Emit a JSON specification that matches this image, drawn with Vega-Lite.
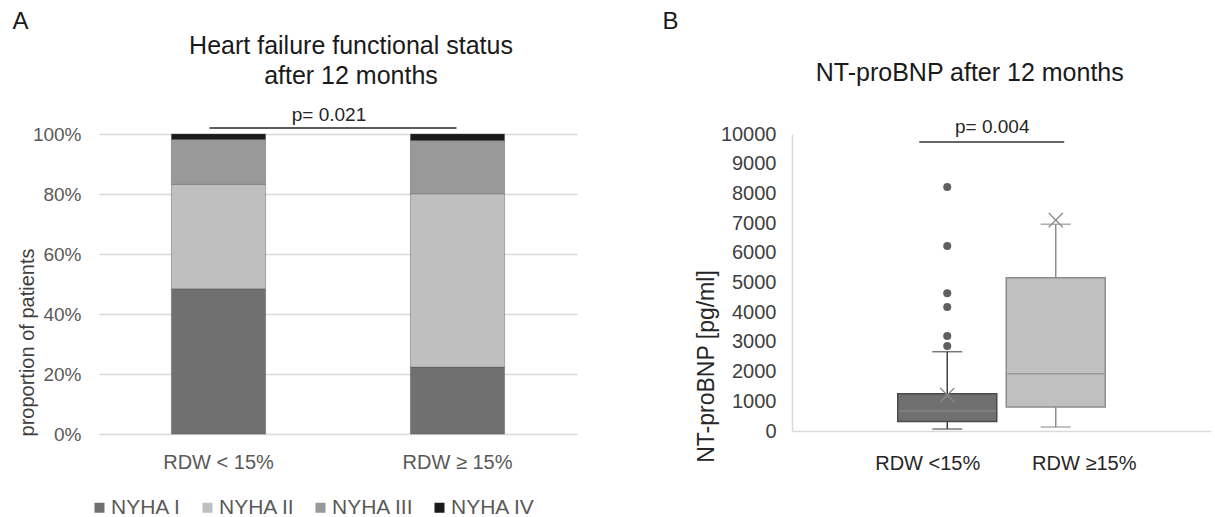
{
  "$schema": "https://vega.github.io/schema/vega-lite/v6.json",
  "autosize": {"type": "pad"},
  "padding": {"left": 12, "top": 9, "right": 0, "bottom": 0},
  "bounds": "flush",
  "spacing": 215,
  "config": {
    "view": {"stroke": null},
    "font": "Liberation Sans",
    "title": {"font": "Liberation Sans", "fontWeight": "normal", "fontSize": 24, "color": "#1a1a1a"}
  },
  "hconcat": [
    {
      "width": 478,
      "height": 300,
      "title": {"text": "A", "anchor": "start", "frame": "bounds", "offset": 0, "dx": -5},
      "data": {"values": [
        {"group": "RDW < 15%", "nyha": "NYHA I", "share": 0.484},
        {"group": "RDW < 15%", "nyha": "NYHA II", "share": 0.348},
        {"group": "RDW < 15%", "nyha": "NYHA III", "share": 0.150},
        {"group": "RDW < 15%", "nyha": "NYHA IV", "share": 0.018},
        {"group": "RDW ≥ 15%", "nyha": "NYHA I", "share": 0.223},
        {"group": "RDW ≥ 15%", "nyha": "NYHA II", "share": 0.578},
        {"group": "RDW ≥ 15%", "nyha": "NYHA III", "share": 0.177},
        {"group": "RDW ≥ 15%", "nyha": "NYHA IV", "share": 0.022}
      ]},
      "layer": [
        {
          "mark": {"type": "bar", "stroke": "#555555", "strokeWidth": 0.7, "strokeOpacity": 0.6},
          "encoding": {
            "x": {
              "field": "group", "type": "nominal", "sort": null,
              "scale": {"domain": ["RDW < 15%", "RDW ≥ 15%"], "paddingInner": 0.606, "paddingOuter": 0.303},
              "axis": {"title": null, "domain": false, "ticks": false, "labelAngle": 0, "labelFontSize": 20, "labelColor": "#595959", "labelPadding": 18}
            },
            "y": {
              "field": "share", "type": "quantitative", "stack": "zero",
              "scale": {"domain": [0, 1]},
              "axis": {"title": "proportion of patients", "values": [0, 0.2, 0.4, 0.6, 0.8, 1], "format": ".0%", "domain": false, "ticks": false,
                       "gridColor": "#d9d9d9", "gridWidth": 1.5, "labelFontSize": 19, "labelColor": "#595959", "labelPadding": 18,
                       "titleFontSize": 20, "titleFontWeight": "normal", "titleColor": "#404040", "titleY": 208, "titlePadding": -5}
            },
            "color": {
              "field": "nyha", "type": "nominal",
              "scale": {"domain": ["NYHA I", "NYHA II", "NYHA III", "NYHA IV"], "range": ["#707070", "#bfbfbf", "#999999", "#1a1a1a"]},
              "legend": {"title": null, "orient": "none", "legendX": -10, "legendY": 363, "direction": "horizontal", "symbolType": "square", "symbolSize": 100, "padding": 0,
                         "symbolStrokeWidth": 0, "labelFontSize": 21, "labelColor": "#595959", "columnPadding": 15, "labelOffset": 1}
            },
            "order": {"field": "nyha", "sort": "ascending"}
          }
        },
        {
          "data": {"values": [{}]},
          "mark": {"type": "rule", "color": "#262626", "strokeWidth": 1.5, "xOffset": -9, "x2Offset": -1},
          "encoding": {
            "x": {"datum": "RDW < 15%", "type": "nominal"},
            "x2": {"datum": "RDW ≥ 15%"},
            "y": {"datum": 1.02, "type": "quantitative", "scale": {"domain": [0, 1]}}
          }
        },
        {
          "data": {"values": [{}]},
          "mark": {"type": "text", "text": "p= 0.021", "fontSize": 19, "color": "#262626", "align": "center", "baseline": "alphabetic", "dx": 110.5},
          "encoding": {
            "x": {"datum": "RDW < 15%", "type": "nominal"},
            "y": {"datum": 1.0433, "type": "quantitative", "scale": {"domain": [0, 1]}}
          }
        },
        {
          "data": {"values": [{}]},
          "mark": {"type": "text", "text": ["Heart failure functional status", "after 12 months"], "fontSize": 25, "lineHeight": 30, "color": "#1a1a1a", "align": "center", "baseline": "alphabetic", "dx": 132.5},
          "encoding": {
            "x": {"datum": "RDW < 15%", "type": "nominal"},
            "y": {"datum": 1.2667, "type": "quantitative", "scale": {"domain": [0, 1]}}
          }
        }
      ]
    },
    {
      "width": 419,
      "height": 297,
      "title": {"text": "B", "anchor": "start", "frame": "bounds", "offset": 27, "dx": -33},
      "data": {"values": [
        {"group": "RDW <15%", "min": 67, "q1": 320, "median": 673, "q3": 1256, "max": 2670, "mean": 1212},
        {"group": "RDW ≥15%", "min": 135, "q1": 808, "median": 1929, "q3": 5162, "max": 6960, "mean": 7100}
      ]},
      "encoding": {
        "y": {
          "type": "quantitative",
          "scale": {"domain": [0, 10000]},
          "axis": {"title": "NT-proBNP [pg/ml]", "values": [0, 1000, 2000, 3000, 4000, 5000, 6000, 7000, 8000, 9000, 10000], "format": "d",
                   "labelOverlap": false, "labelSeparation": -25, "grid": false, "ticks": false, "domainColor": "#d9d9d9", "domainWidth": 1.5, "labelFontSize": 20, "labelColor": "#404040",
                   "labelPadding": 16, "titleFontSize": 23, "titleFontWeight": "normal", "titleColor": "#262626", "titleY": 232, "titlePadding": 2}
        }
      },
      "layer": [
        {
          "mark": {"type": "rule", "strokeWidth": 1.5},
          "encoding": {
            "x": {
              "field": "group", "type": "nominal", "sort": null,
              "scale": {"domain": ["RDW <15%", "RDW ≥15%"], "paddingInner": 0, "paddingOuter": 0.931},
              "axis": {"title": null, "domainColor": "#d9d9d9", "domainWidth": 1.5, "ticks": false, "labelAngle": 0, "labelFontSize": 20,
                       "labelColor": "#262626", "labelPadding": 22,
                       "labelOffset": {"condition": {"test": "datum.value === 'RDW <15%'", "value": -19.5}, "value": 28.5}}
            },
            "y": {"field": "min"},
            "y2": {"field": "max"},
            "color": {"condition": {"test": "datum.group === 'RDW <15%'", "value": "#404040"}, "value": "#8c8c8c"}
          }
        },
        {
          "mark": {"type": "tick", "size": 30, "thickness": 1.5},
          "encoding": {
            "x": {"field": "group", "type": "nominal"},
            "y": {"field": "min"},
            "color": {"condition": {"test": "datum.group === 'RDW <15%'", "value": "#404040"}, "value": "#8c8c8c"}
          }
        },
        {
          "mark": {"type": "tick", "size": 30, "thickness": 1.5},
          "encoding": {
            "x": {"field": "group", "type": "nominal"},
            "y": {"field": "max"},
            "color": {"condition": {"test": "datum.group === 'RDW <15%'", "value": "#404040"}, "value": "#8c8c8c"}
          }
        },
        {
          "mark": {"type": "bar", "size": 99, "strokeWidth": 1.5},
          "encoding": {
            "x": {"field": "group", "type": "nominal"},
            "y": {"field": "q1"},
            "y2": {"field": "q3"},
            "fill": {"condition": {"test": "datum.group === 'RDW <15%'", "value": "#707070"}, "value": "#c0c0c0"},
            "stroke": {"condition": {"test": "datum.group === 'RDW <15%'", "value": "#4a4a4a"}, "value": "#8c8c8c"}
          }
        },
        {
          "mark": {"type": "tick", "size": 97, "thickness": 1.5},
          "encoding": {
            "x": {"field": "group", "type": "nominal"},
            "y": {"field": "median"},
            "color": {"condition": {"test": "datum.group === 'RDW <15%'", "value": "#8f8f8f"}, "value": "#8c8c8c"}
          }
        },
        {
          "mark": {"type": "point", "shape": "M-1,-1L1,1M-1,1L1,-1", "size": 200, "filled": false, "strokeWidth": 1.3, "opacity": 1},
          "encoding": {
            "x": {"field": "group", "type": "nominal"},
            "y": {"field": "mean"},
            "color": {"value": "#8a8a8a"}
          }
        },
        {
          "data": {"values": [
            {"group": "RDW <15%", "value": 8215},
            {"group": "RDW <15%", "value": 6229},
            {"group": "RDW <15%", "value": 4636},
            {"group": "RDW <15%", "value": 4175},
            {"group": "RDW <15%", "value": 3199},
            {"group": "RDW <15%", "value": 2862}
          ]},
          "mark": {"type": "point", "filled": true, "size": 65, "opacity": 1},
          "encoding": {
            "x": {"field": "group", "type": "nominal"},
            "y": {"field": "value"},
            "color": {"value": "#5f5f5f"}
          }
        },
        {
          "data": {"values": [{}]},
          "mark": {"type": "rule", "color": "#333333", "strokeWidth": 1.5, "xOffset": -28, "x2Offset": 8.5},
          "encoding": {
            "x": {"datum": "RDW <15%", "type": "nominal"},
            "x2": {"datum": "RDW ≥15%"},
            "y": {"datum": 9731}
          }
        },
        {
          "data": {"values": [{}]},
          "mark": {"type": "text", "text": "p= 0.004", "fontSize": 19, "color": "#262626", "align": "center", "baseline": "alphabetic", "dx": 45},
          "encoding": {
            "x": {"datum": "RDW <15%", "type": "nominal"},
            "y": {"datum": 10034}
          }
        },
        {
          "data": {"values": [{}]},
          "mark": {"type": "text", "text": "NT-proBNP after 12 months", "fontSize": 25, "color": "#1a1a1a", "align": "center", "baseline": "alphabetic", "dx": 22.5},
          "encoding": {
            "x": {"datum": "RDW <15%", "type": "nominal"},
            "y": {"datum": 11785}
          }
        }
      ]
    }
  ]
}
